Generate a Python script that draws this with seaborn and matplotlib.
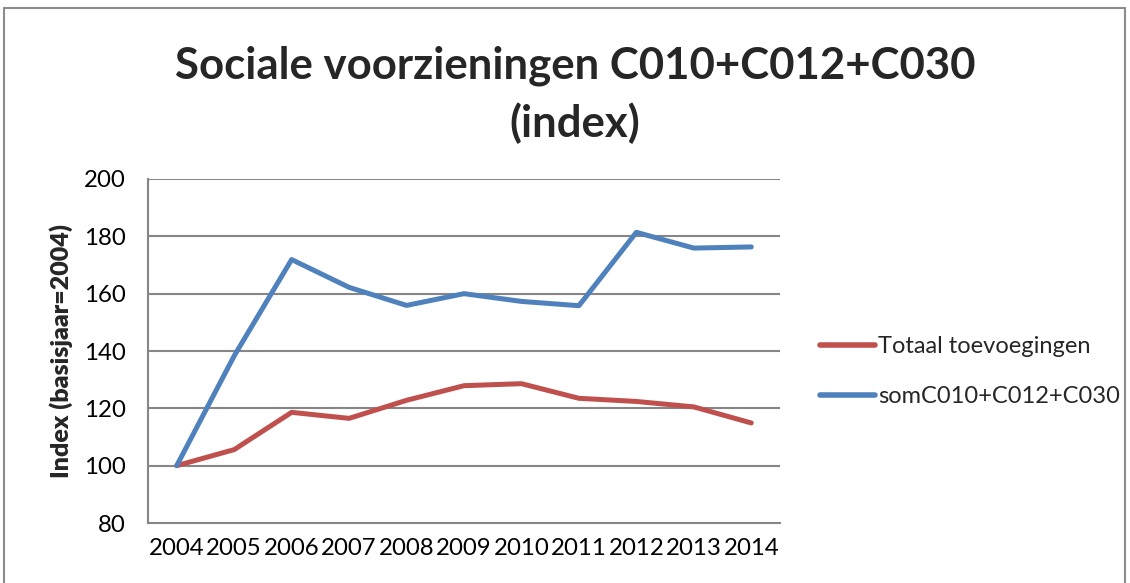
import matplotlib
matplotlib.use("Agg")
import matplotlib.pyplot as plt
import matplotlib.patches as mpatches
import seaborn as sns
import pandas as pd

years = [2004, 2005, 2006, 2007, 2008, 2009, 2010, 2011, 2012, 2013, 2014]
totaal = [100, 105.6, 118.6, 116.5, 122.8, 127.9, 128.6, 123.5, 122.4, 120.5, 114.9]
som = [100, 138.3, 171.9, 162.2, 155.9, 160.0, 157.3, 155.8, 181.4, 175.9, 176.3]
series_names = ["Totaal toevoegingen", "somC010+C012+C030"]
y_ticks = [80, 100, 120, 140, 160, 180, 200]

df = pd.DataFrame({
    "pos": list(range(len(years))) * 2,
    "value": totaal + som,
    "serie": [series_names[0]] * len(years) + [series_names[1]] * len(years),
})

sns.set_style("white")
plt.rcParams["font.family"] = ["Lato", "DejaVu Sans"]

fig = plt.figure(figsize=(11.3, 5.83), dpi=100)
ax = fig.add_axes([148 / 1130, 1 - 523 / 583, 632 / 1130, 344 / 583])

grid_col = "#868686"
for v in y_ticks[1:]:
    ax.axhline(v, color=grid_col, lw=1.5, zorder=0)

palette = {series_names[0]: "#C0504D", series_names[1]: "#4F81BD"}
sns.lineplot(data=df, x="pos", y="value", hue="serie", palette=palette,
             lw=3.6, ax=ax, legend=True, sort=False)

ax.set_xlim(-0.5, len(years) - 0.5)
ax.set_ylim(80, 200)
ax.set_yticks(y_ticks)
ax.set_xticks(range(len(years)))
ax.set_xticklabels([str(y) for y in years])
ax.set_xticks([-0.5, len(years) - 0.5], minor=True)
ax.tick_params(axis="both", which="both", direction="out", length=6,
               color=grid_col, width=1.3, labelsize=17.3, labelcolor="black")
ax.tick_params(axis="x", which="major", pad=5)
ax.tick_params(axis="y", pad=10)
ax.set_xlabel("")
ax.set_ylabel("Index (basisjaar=2004)", fontsize=18, fontweight="heavy", labelpad=8)

for side in ["top", "right"]:
    ax.spines[side].set_visible(False)
for side in ["left", "bottom"]:
    ax.spines[side].set_color(grid_col)
    ax.spines[side].set_linewidth(1.5)

leg = ax.legend(loc="center left", bbox_to_anchor=(1.03, 0.44), frameon=False,
                fontsize=17, handlelength=2.3, handletextpad=0.15, labelspacing=1.25)
for line in leg.get_lines():
    line.set_linewidth(4)

fig.text(0.509, 1 - 66 / 583, "Sociale voorzieningen C010+C012+C030", ha="center",
         va="center", fontsize=31.5, fontweight="bold")
fig.text(0.509, 1 - 123 / 583, "(index)", ha="center", va="center",
         fontsize=31.5, fontweight="bold")

# chart frame
fig.patches.append(mpatches.Rectangle((4 / 1130, -0.1), 1121 / 1130, 1.1 - 8 / 583,
                                      transform=fig.transFigure, fill=False,
                                      edgecolor="#8c8c8c", lw=1.5))

fig.savefig("out.png", dpi=100)
